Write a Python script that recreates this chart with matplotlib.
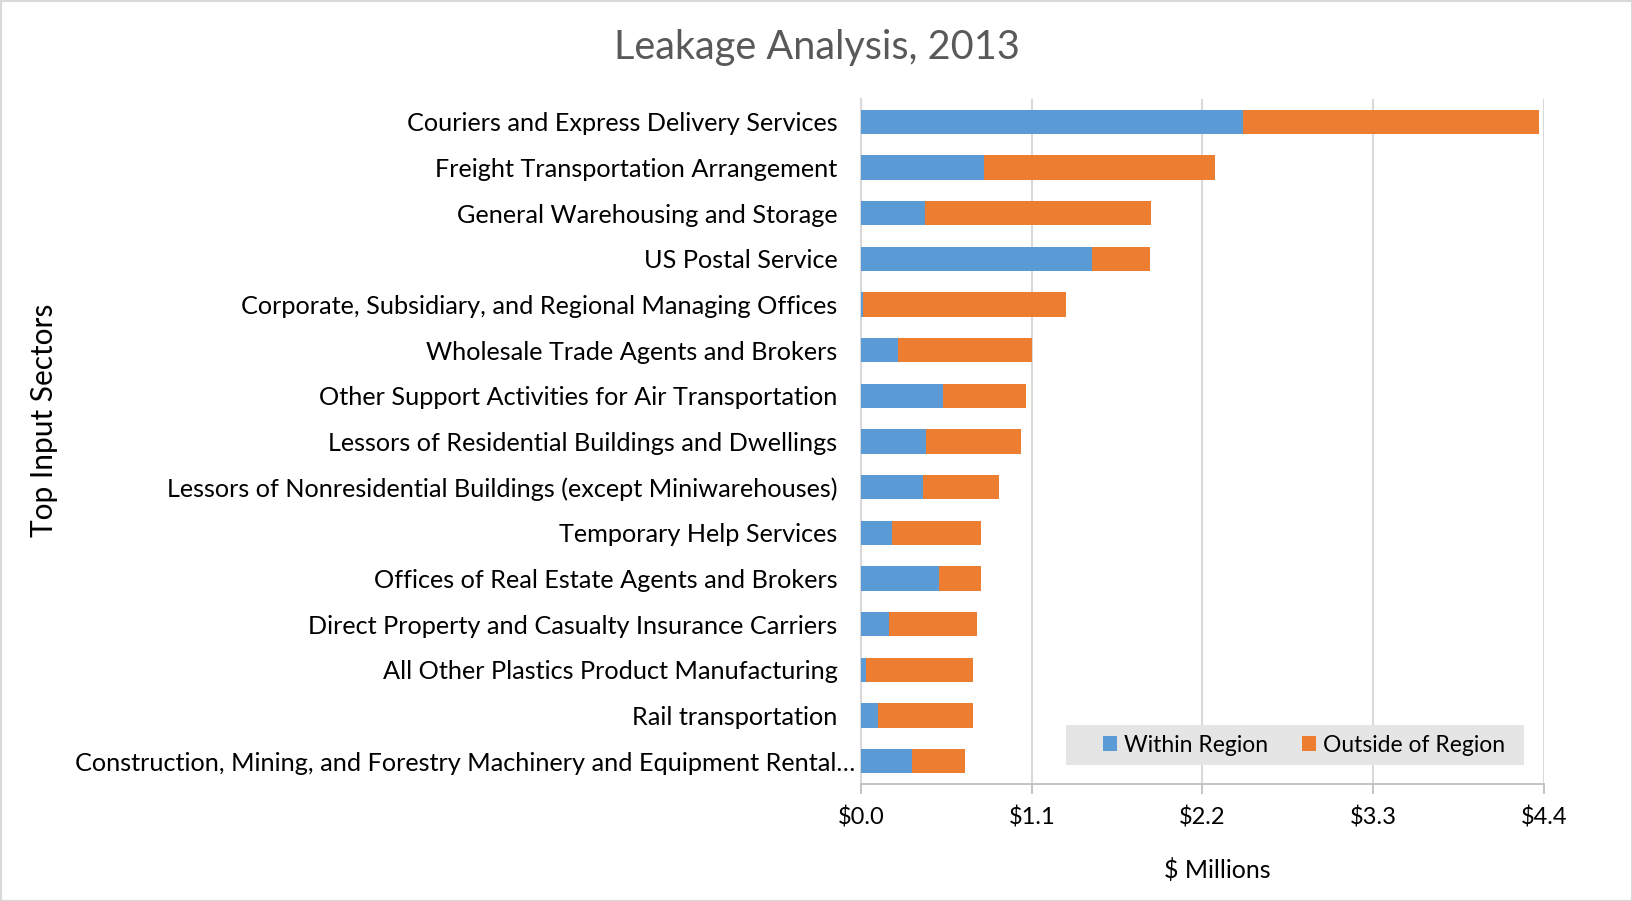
import numpy as np
import matplotlib
matplotlib.use('Agg')
import matplotlib.pyplot as plt
import matplotlib.transforms as mtransforms
from matplotlib.patches import Rectangle

W, H = 1633, 901
DPI = 100

sectors = [
    "Couriers and Express Delivery Services",
    "Freight Transportation Arrangement",
    "General Warehousing and Storage",
    "US Postal Service",
    "Corporate, Subsidiary, and Regional Managing Offices",
    "Wholesale Trade Agents and Brokers",
    "Other Support Activities for Air Transportation",
    "Lessors of Residential Buildings and Dwellings",
    "Lessors of Nonresidential Buildings (except Miniwarehouses)",
    "Temporary Help Services",
    "Offices of Real Estate Agents and Brokers",
    "Direct Property and Casualty Insurance Carriers",
    "All Other Plastics Product Manufacturing",
    "Rail transportation",
    "Construction, Mining, and Forestry Machinery and Equipment Rental\u2026",
]
within = [2.46, 0.79, 0.41, 1.49, 0.01, 0.24, 0.53, 0.42, 0.40, 0.20, 0.50, 0.18, 0.03, 0.11, 0.33]
total = [4.37, 2.28, 1.87, 1.86, 1.32, 1.10, 1.06, 1.03, 0.89, 0.77, 0.77, 0.75, 0.72, 0.72, 0.67]
outside = [t - w for t, w in zip(total, within)]
ticks = [0.0, 1.1, 2.2, 3.3, 4.4]

BLUE = '#5B9BD5'
ORANGE = '#ED7D31'
FONT = 'Lato'

fig = plt.figure(figsize=(W / DPI, H / DPI), dpi=DPI, facecolor='white')
ax = fig.add_axes([861 / W, 1 - 784 / H, (1544 - 861) / W, (784 - 99) / H])

y = np.arange(len(sectors))
ax.barh(y, within, height=0.53, color=BLUE, label='Within Region', zorder=3)
ax.barh(y, outside, left=within, height=0.53, color=ORANGE, label='Outside of Region', zorder=3)

ax.set_xlim(0, 4.4)
ax.set_ylim(len(sectors) - 0.5, -0.5)
ax.set_xticks(ticks)
ax.set_xticklabels([f'${t:.1f}' for t in ticks], fontsize=17, family=FONT, color='#000000')
ax.set_yticks(y)
ax.set_yticklabels(sectors, fontsize=18.2, family=FONT, color='#000000')
ax.tick_params(axis='y', length=0, pad=17)
ax.tick_params(axis='x', direction='out', length=7, width=1.3, color='#BFBFBF', pad=9)

# the truncated last label runs a little further right, as in the original
last = ax.get_yticklabels()[-1]
last.set_transform(last.get_transform() + mtransforms.ScaledTranslation(18 / DPI, 0, fig.dpi_scale_trans))

ax.grid(axis='x', color='#D9D9D9', linewidth=1.5, zorder=0)
for s in ['top', 'right']:
    ax.spines[s].set_visible(False)
ax.spines['left'].set_color('#D9D9D9')
ax.spines['left'].set_linewidth(1.5)
ax.spines['bottom'].set_color('#BFBFBF')
ax.spines['bottom'].set_linewidth(1.3)

# legend box (grey, no border) drawn behind the legend entries
ax.add_patch(Rectangle((1066.5 / W, 1 - 764.5 / H), (1523.7 - 1066.5) / W, 39.5 / H,
                       transform=fig.transFigure, facecolor='#E5E5E5', edgecolor='none',
                       zorder=4, clip_on=False))
leg = ax.legend(loc='center left', bbox_to_anchor=(1103 / W, 1 - 745 / H),
                bbox_transform=fig.transFigure, ncol=2, frameon=False,
                prop={'family': FONT, 'size': 16.5}, handlelength=0.6,
                handleheight=0.6, handletextpad=0.3, columnspacing=1.5, borderpad=0,
                borderaxespad=0)
leg.set_zorder(5)

fig.text(817 / W, 1 - 47 / H, 'Leakage Analysis, 2013', ha='center', va='center',
         fontsize=28.5, family=FONT, color='#595959')
fig.text(1217 / W, 1 - 870 / H, '$ Millions', ha='center', va='center',
         fontsize=18, family=FONT, color='#000000')
fig.text(44 / W, 1 - 420 / H, 'Top Input Sectors', ha='center', va='center',
         rotation=90, fontsize=21.5, family=FONT, color='#000000')

fig.patches.append(Rectangle((0.5 / W, 0.5 / H), 1 - 1.5 / W, 1 - 1.5 / H, transform=fig.transFigure,
                             fill=False, edgecolor='#D9D9D9', linewidth=1.5))

fig.savefig('out.png', dpi=DPI, facecolor='white')
